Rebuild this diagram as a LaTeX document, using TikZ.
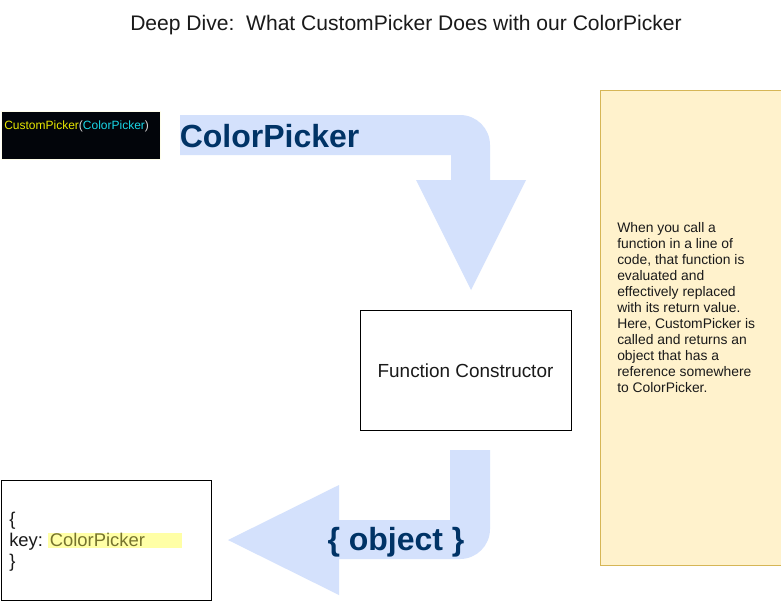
\documentclass[tikz,border=0pt]{standalone}
\usepackage{fontspec}
\setmainfont{Liberation Sans}
\definecolor{arrowblue}{HTML}{D4E1FC}
\definecolor{navy}{HTML}{003366}
\definecolor{notefill}{HTML}{FFF2CC}
\definecolor{notedraw}{HTML}{D6B656}
\definecolor{codebg}{HTML}{02050A}
\definecolor{codeyellow}{HTML}{E8E800}
\definecolor{codecyan}{HTML}{19D8E8}
\definecolor{codegray}{HTML}{D8D8D8}
\definecolor{hlyellow}{HTML}{FFFFA6}
\definecolor{olive}{HTML}{76742E}
\definecolor{textgray}{HTML}{1A1A1A}
\begin{document}
\begin{tikzpicture}[x=0.75pt,y=-0.75pt,
  plainbox/.style={draw=black, line width=0.75pt, fill=white},
  arrowshape/.style={fill=arrowblue},
  bigtext/.style={font=\fontsize{24}{28}\selectfont\bfseries, text=navy, inner sep=0pt},
  txt/.style={inner sep=0pt}]
\useasboundingbox (0,0) rectangle (781,601);
\fill[white] (0,0) rectangle (781,601);

% title
\node[txt, anchor=base, font=\fontsize{15.8}{18}\selectfont, text=textgray] (title) at (406,30) {Deep Dive:\ \ What CustomPicker Does with our ColorPicker};

% code box
\path[fill=codebg, draw=white!92!yellow, line width=0.75pt] (1,111) rectangle (160,159);
\node[txt, anchor=base west, font=\fontsize{9}{11}\selectfont] (code) at (4,129)
  {\textcolor{codeyellow}{CustomPicker}\textcolor{codegray}{(}\textcolor{codecyan}{ColorPicker}\textcolor{codegray}{)}};

% top arrow
\fill[arrowshape] (180,115) -- (460,115) .. controls (476.57,115) and (490,128.43) .. (490,145)
  -- (490,180) -- (526,180) -- (471,290) -- (416,180) -- (451,180) -- (451,155) -- (180,155) -- cycle;
\node[bigtext, anchor=base west] (lbl1) at (179.5,147) {ColorPicker};

% function constructor
\node[plainbox, minimum width=211*0.75pt, minimum height=120*0.75pt, anchor=north west, inner sep=0pt] (fc) at (360,310) {};
\node[txt, anchor=base, font=\fontsize{14.2}{16}\selectfont, text=textgray] (fctext) at (465.5,377) {Function Constructor};

% bottom arrow
\fill[arrowshape] (450,450) -- (490,450) -- (490,529) .. controls (490,545.57) and (476.57,559) .. (460,559)
  -- (339,559) -- (339,595) -- (228,540) -- (339,485) -- (339,520) -- (450,520) -- cycle;
\node[bigtext, anchor=base] (lbl2) at (396,550) {\{ object \}};

% object box
\node[plainbox, minimum width=210*0.75pt, minimum height=120*0.75pt, anchor=north west, inner sep=0pt] (obj) at (1,480) {};
\fill[hlyellow] (48,532.5) rectangle (182,548);
\node[txt, anchor=base west, font=\fontsize{13.8}{16}\selectfont, text=textgray] (ob1) at (9,525) {\{};
\node[txt, anchor=base west, font=\fontsize{13.8}{16}\selectfont, text=textgray] (ob2) at (9,546) {key: \textcolor{olive}{ColorPicker}};
\node[txt, anchor=base west, font=\fontsize{13.8}{16}\selectfont, text=textgray] (ob3) at (9,567.5) {\}};

% note
\node[draw=notedraw, fill=notefill, line width=0.75pt, minimum width=181*0.75pt, minimum height=475*0.75pt, anchor=north west, inner sep=0pt] (note) at (600,90) {};
\node[txt, anchor=north west, align=left, text=textgray, font=\fontsize{10.4}{12}\selectfont] (notetext) at (617,222)
  {When you call a\\function in a line of\\code, that function is\\evaluated and\\effectively replaced\\with its return value.\\Here, CustomPicker is\\called and returns an\\object that has a\\reference somewhere\\to ColorPicker.};
\end{tikzpicture}
\end{document}
